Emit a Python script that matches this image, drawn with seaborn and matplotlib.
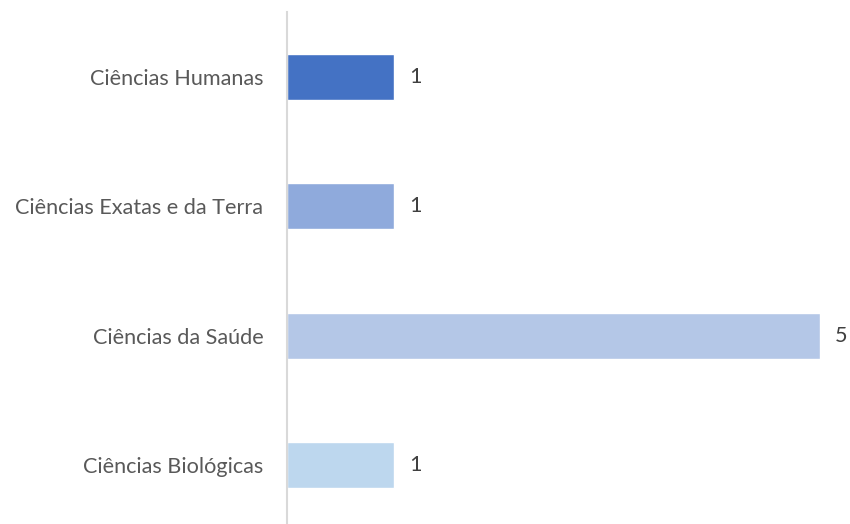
import matplotlib
matplotlib.use("Agg")
import matplotlib.pyplot as plt
import seaborn as sns
import pandas as pd

categories = ["Ciências Humanas", "Ciências Exatas e da Terra", "Ciências da Saúde", "Ciências Biológicas"]
values = [1, 1, 5, 1]
colors = ["#4472C4", "#8FAADC", "#B4C7E7", "#BDD7EE"]

sns.set_style("white")
plt.rcParams['font.family'] = ['Lato', 'DejaVu Sans']

df = pd.DataFrame({"cat": categories, "val": values})

fig = plt.figure(figsize=(8.5, 5.24), dpi=100)
top_px, bot_px = 12.3, 529.6
ax = fig.add_axes([287/850, (524-bot_px)/524, (820-287)/850, (bot_px-top_px)/524])
sns.barplot(data=df, x="val", y="cat", hue="cat", palette=colors, orient="h",
            width=0.356, legend=False, ax=ax, saturation=1)
ax.set_xlim(0, 5)
ax.set_ylim(3.5, -0.5)
ax.set_xlabel("")
ax.set_ylabel("")
ax.set_xticks([])
for s in ["top", "right", "bottom"]:
    ax.spines[s].set_visible(False)
ax.spines["left"].set_color("#D9D9D9")
ax.spines["left"].set_linewidth(1.5)
ax.tick_params(axis="y", length=0, pad=17, labelsize=15.6, labelcolor="#595959")
for i, v in enumerate(values):
    ax.annotate(f"{v}", xy=(v, i), xytext=(11, 0), textcoords="offset points",
                va="center", ha="left", fontsize=15.6, color="#404040")
fig.savefig("out.png", dpi=100)
